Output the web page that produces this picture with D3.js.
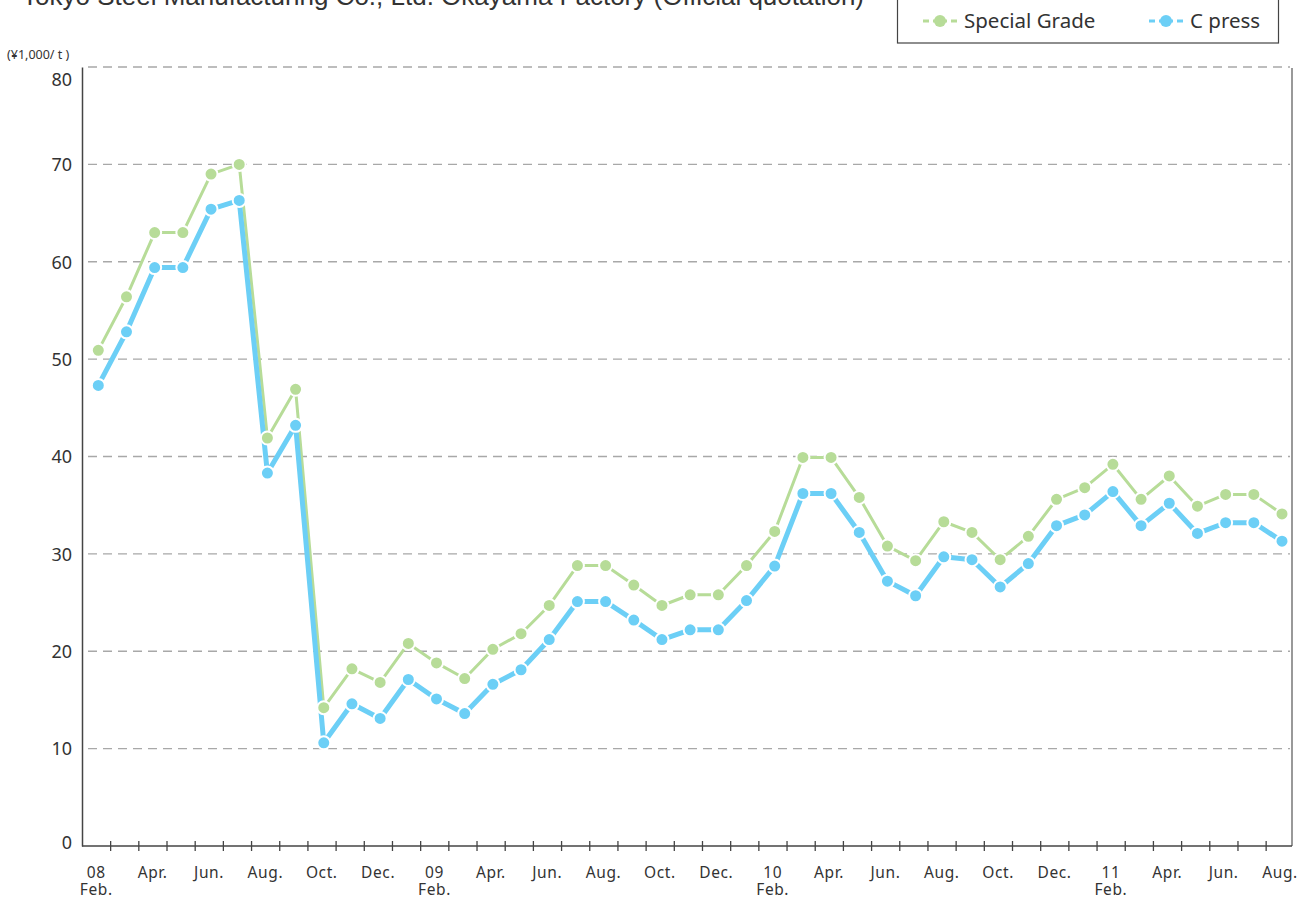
<!DOCTYPE html>
<html>
<head>
<meta charset="utf-8">
<script src="https://cdn.jsdelivr.net/npm/d3@7"></script>
<style>
  body { margin: 0; background: #fff; }
  svg text { font-family: "Noto Sans", "Open Sans", sans-serif; fill: #333; }
</style>
</head>
<body>
<div class="price-plot"></div>
<script>
// monthly, Feb 2008 .. Aug 2011
const months = ['Feb.','Mar.','Apr.','May','Jun.','Jul.','Aug.','Sep.','Oct.','Nov.','Dec.','Jan.'];
const years = ['08','09','10','11'];
const yTicks = [0,10,20,30,40,50,60,70,80];

const specialGrade = [50.9, 56.4, 63, 63, 69, 70, 41.9, 46.9, 14.2, 18.2, 16.8, 20.8,
  18.8, 17.2, 20.2, 21.8, 24.7, 28.8, 28.8, 26.8, 24.7, 25.8, 25.8, 28.8,
  32.3, 39.9, 39.9, 35.8, 30.8, 29.3, 33.3, 32.2, 29.4, 31.8, 35.6, 36.8,
  39.2, 35.6, 38.0, 34.9, 36.1, 36.1, 34.1];
const cPress = [47.3, 52.8, 59.4, 59.4, 65.4, 66.3, 38.3, 43.2, 10.6, 14.6, 13.1, 17.1,
  15.1, 13.6, 16.6, 18.1, 21.2, 25.1, 25.1, 23.2, 21.2, 22.2, 22.2, 25.2,
  28.75, 36.2, 36.2, 32.2, 27.2, 25.7, 29.7, 29.4, 26.6, 29.0, 32.9, 34.0,
  36.4, 32.9, 35.2, 32.1, 33.2, 33.2, 31.3];

const green = '#b7dc98';
const blue = '#6ccff6';

makeChart();

function makeChart() {
    const outerWidth = 1312, outerHeight = 899;
    const left = 82, right = 1292, top = 67, bottom = 846;

    const svg = d3.select('.price-plot')
        .append('svg')
        .attr('width', outerWidth)
        .attr('height', outerHeight);

    const n = specialGrade.length;
    const xScale = d3.scaleLinear().domain([0, n - 1]).range([98.3, 1282]);
    const yScale = d3.scaleLinear().domain([0, 80]).range([bottom, top]);

    // title (cut at top edge in the original)
    svg.append('text')
        .attr('x', 22).attr('y', 5)
        .style('font-family', '"Liberation Sans", Arial, sans-serif')
        .attr('font-size', 26)
        .text('Tokyo Steel Manufacturing Co., Ltd. Okayama Factory  (Official quotation)');

    // gridlines
    svg.append('g')
        .selectAll('line')
        .data(yTicks.filter(d => d > 0))
        .join('line')
        .attr('x1', left + 6).attr('x2', right - 2)
        .attr('y1', d => yScale(d)).attr('y2', d => yScale(d))
        .attr('stroke', '#a8a8a8')
        .attr('stroke-width', 1.3)
        .attr('stroke-dasharray', '9,6');

    // right border
    svg.append('line')
        .attr('x1', right).attr('x2', right)
        .attr('y1', top + 1).attr('y2', bottom)
        .attr('stroke', '#777').attr('stroke-width', 1.5);

    // y axis
    const yAxis = d3.axisLeft(yScale).tickValues(yTicks).tickSize(0).tickPadding(10);
    svg.append('g')
        .attr('transform', `translate(${left},0)`)
        .call(yAxis)
        .call(g => g.select('.domain').attr('stroke', '#444').attr('stroke-width', 1.5))
        .call(g => g.selectAll('.tick text')
            .attr('font-size', 18)
            .attr('fill', '#333')
            .attr('dy', d => d === 80 ? '1.05em' : d === 0 ? '0.15em' : '0.35em'));

    svg.append('text')
        .attr('x', 7).attr('y', 59)
        .attr('font-size', 12.5)
        .text('(¥1,000/ t )');

    // x axis, ticks between months
    const tickVals = d3.range(n - 1).map(i => i + 0.42);
    const xAxis = d3.axisBottom(xScale).tickValues(tickVals).tickSize(5).tickFormat('');
    svg.append('g')
        .attr('transform', `translate(0,${bottom})`)
        .call(xAxis)
        .call(g => g.select('.domain').remove())
        .call(g => g.selectAll('.tick line')
            .attr('y1', -5).attr('y2', 5)
            .attr('stroke', '#444').attr('stroke-width', 1.3));

    svg.append('line')
        .attr('x1', left).attr('x2', right)
        .attr('y1', bottom).attr('y2', bottom)
        .attr('stroke', '#444').attr('stroke-width', 1.5);

    // month labels every two months; February gets the year on top
    const labelIdx = d3.range(0, n, 2);
    const labels = svg.append('g').selectAll('text')
        .data(labelIdx)
        .join('text')
        .attr('y', 878)
        .attr('text-anchor', 'middle')
        .attr('font-size', 15.5)
        .attr('letter-spacing', 0.6);
    labels.append('tspan')
        .attr('x', d => xScale(d) - 2)
        .text(d => d % 12 === 0 ? years[d / 12] : months[d % 12]);
    labels.filter(d => d % 12 === 0)
        .append('tspan')
        .attr('x', d => xScale(d) - 2)
        .attr('dy', 17)
        .text('Feb.');

    const lineFor = arr => d3.line()
        .x((d, i) => xScale(i))
        .y(d => yScale(d))(arr);

    svg.append('path')
        .attr('d', lineFor(specialGrade))
        .attr('fill', 'none')
        .attr('stroke', green)
        .attr('stroke-width', 3)
        .attr('stroke-linejoin', 'round');

    svg.append('path')
        .attr('d', lineFor(cPress))
        .attr('fill', 'none')
        .attr('stroke', blue)
        .attr('stroke-width', 5)
        .attr('stroke-linejoin', 'round');

    [[specialGrade, green], [cPress, blue]].forEach(([arr, col]) => {
        svg.append('g')
            .selectAll('circle')
            .data(arr)
            .join('circle')
            .attr('cx', (d, i) => xScale(i))
            .attr('cy', d => yScale(d))
            .attr('r', 6.5)
            .attr('fill', col)
            .attr('stroke', 'white')
            .attr('stroke-width', 2);
    });

    // legend
    const legend = svg.append('g');
    legend.append('rect')
        .attr('x', 897.5).attr('y', -5)
        .attr('width', 381).attr('height', 48)
        .attr('fill', 'white')
        .attr('stroke', '#444').attr('stroke-width', 1.2);

    const items = [
        {name: 'Special Grade', color: green, x: 923},
        {name: 'C press', color: blue, x: 1149}
    ];
    const li = legend.selectAll('g.item')
        .data(items)
        .join('g')
        .attr('class', 'item')
        .attr('transform', d => `translate(${d.x},21)`);
    li.append('line')
        .attr('x1', 0).attr('x2', 34)
        .attr('stroke', d => d.color)
        .attr('stroke-width', 3)
        .attr('stroke-dasharray', '6,4,14,4,6');
    li.append('circle')
        .attr('cx', 17).attr('r', 6)
        .attr('fill', d => d.color);
    li.append('text')
        .attr('x', 41).attr('y', 7)
        .attr('font-size', 20.5)
        .text(d => d.name);
}
</script>
</body>
</html>
